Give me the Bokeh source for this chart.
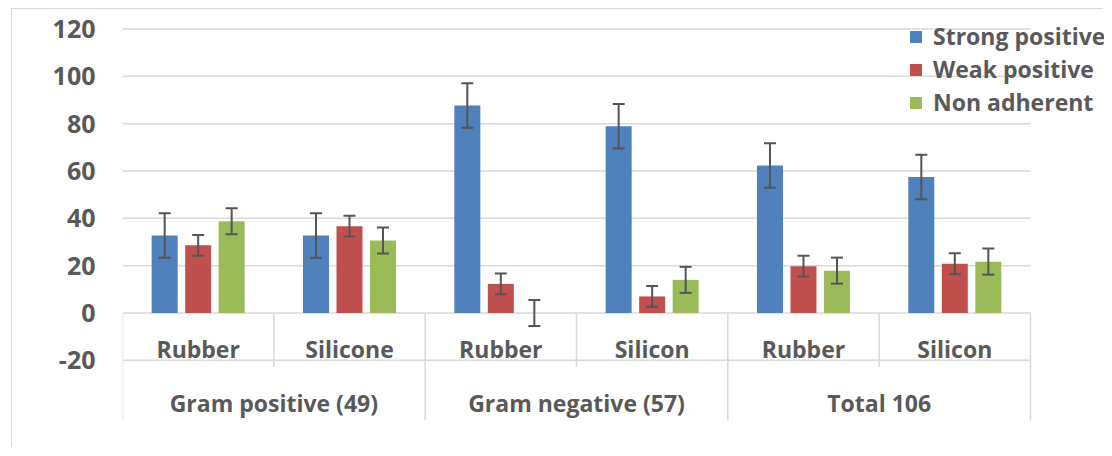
from bokeh.plotting import figure
from bokeh.models import Range1d, FixedTicker, ColumnDataSource, Whisker, TeeHead, Legend, LegendItem
from bokeh.core.properties import value
from bokeh.embed import file_html
from bokeh.resources import INLINE

# ---------------- data ----------------
groups = ["Gram positive (49)", "Gram negative (57)", "Total 106"]
materials = ["Rubber", "Silicone", "Rubber", "Silicon", "Rubber", "Silicon"]
series_names = ["Strong positive", "Weak positive", "Non adherent"]
strong = [32.7, 32.7, 87.7, 78.9, 62.3, 57.5]
weak = [28.6, 36.7, 12.3, 7.0, 19.8, 20.8]
non_adherent = [38.8, 30.6, 0.0, 14.0, 17.9, 21.7]
strong_err = [9.4, 9.4, 9.4, 9.4, 9.4, 9.4]
weak_err = [4.4, 4.4, 4.4, 4.4, 4.4, 4.4]
non_err = [5.5, 5.5, 5.5, 5.5, 5.5, 5.5]
y_ticks = [-20, 0, 20, 40, 60, 80, 100, 120]
y_tick_labels = ["-20", "0", "20", "40", "60", "80", "100", "120"]

# ---------------- styling / layout ----------------
colors = ["#4F81BD", "#C0504D", "#9BBB59"]
TEXT = "#595959"
GRID = "#d9d9d9"
FONT = "Open Sans"

ORIGIN_X, ORIGIN_Y = 12, 9          # page position of canvas origin
W, H = 1092, 439
FRAME_LEFT = 122
ZERO_Y = 312.5
PX_UNIT = 2.367
PX_CAT = 151.33

def yval(page_y):
    return (ZERO_Y - page_y) / PX_UNIT

y0 = yval(ORIGIN_Y + H)
y1 = yval(ORIGIN_Y)
x1 = (ORIGIN_X + W - FRAME_LEFT) / PX_CAT

p = figure(width=W, height=H, output_backend="svg", toolbar_location=None,
           x_range=Range1d(0, x1), y_range=Range1d(y0, y1),
           min_border_left=FRAME_LEFT - ORIGIN_X, min_border_right=0,
           min_border_top=0, min_border_bottom=0)
p.margin = (ORIGIN_Y - 1, 0, 0, ORIGIN_X - 1)
p.styles = {"border-left": "1px solid #d9d9d9", "border-top": "1px solid #d9d9d9"}
p.outline_line_color = None
p.background_fill_color = "white"
p.border_fill_color = "white"
p.xgrid.visible = False
p.ygrid.visible = False
p.xaxis.visible = False

ya = p.yaxis[0]
ya.ticker = FixedTicker(ticks=y_ticks)
ya.major_label_overrides = {t: s for t, s in zip(y_ticks, y_tick_labels)}
ya.axis_line_color = None
ya.major_tick_line_color = None
ya.minor_tick_line_color = None
ya.major_tick_out = 0
ya.major_tick_in = 0
ya.major_label_standoff = 27
ya.major_label_text_font = FONT
ya.major_label_text_font_style = "bold"
ya.major_label_text_font_size = "25px"
ya.major_label_text_color = TEXT

ncat = len(materials)
# gridlines (including zero axis line and -20 line)
p.segment(x0=[0] * len(y_ticks), x1=[ncat] * len(y_ticks), y0=y_ticks, y1=y_ticks,
          line_color=GRID, line_width=1.5)

# category table lines
grp_x = [2 * g for g in range(len(groups) + 1)]
sub_x = [2 * g + 1 for g in range(len(groups))]
yb_grp = yval(420)
yb_sub = yval(366.5)
p.segment(x0=grp_x, x1=grp_x, y0=[0] * len(grp_x), y1=[yb_grp] * len(grp_x),
          line_color=GRID, line_width=1.5)
p.segment(x0=sub_x, x1=sub_x, y0=[0] * len(sub_x), y1=[yb_sub] * len(sub_x),
          line_color=GRID, line_width=1.5)

# bars + error bars
BAR_W = 26 / PX_CAT
OFF = 33.5 / PX_CAT
renderers = []
for k, (vals, errs) in enumerate([(strong, strong_err), (weak, weak_err), (non_adherent, non_err)]):
    xs = [i + 0.5 + (k - 1) * OFF for i in range(ncat)]
    src = ColumnDataSource(dict(x=xs, top=vals,
                                upper=[v + e for v, e in zip(vals, errs)],
                                lower=[v - e for v, e in zip(vals, errs)]))
    r = p.vbar(x="x", top="top", bottom=0, width=BAR_W, source=src,
               fill_color=colors[k], line_color=None)
    renderers.append(r)
    wh = Whisker(base="x", upper="upper", lower="lower", source=src,
                 line_color="#555555", line_width=2, level="overlay",
                 upper_head=TeeHead(size=12, line_color="#555555", line_width=2),
                 lower_head=TeeHead(size=12, line_color="#555555", line_width=2))
    p.add_layout(wh)

# category labels
p.text(x=[i + 0.5 for i in range(ncat)], y=[yval(348.5)] * ncat, text=materials,
       text_align="center", text_baseline="alphabetic",
       text_font=value(FONT), text_font_style="bold", text_font_size="23px",
       text_color=TEXT)
p.text(x=[2 * g + 1 for g in range(len(groups))], y=[yval(402)] * len(groups), text=groups,
       text_align="center", text_baseline="alphabetic",
       text_font=value(FONT), text_font_style="bold", text_font_size="23px",
       text_color=TEXT)

legend = Legend(items=[LegendItem(label=n, renderers=[r]) for n, r in zip(series_names, renderers)],
                location=(908 - FRAME_LEFT, (ORIGIN_Y + H) - 118),
                glyph_width=15, glyph_height=15, label_standoff=10, spacing=1,
                padding=0, margin=0, label_height=30,
                background_fill_alpha=0, border_line_color=None,
                label_text_font=FONT, label_text_font_style="bold",
                label_text_font_size="23px", label_text_color=TEXT)
p.add_layout(legend)

open("out.html", "w").write(file_html(p, INLINE))
